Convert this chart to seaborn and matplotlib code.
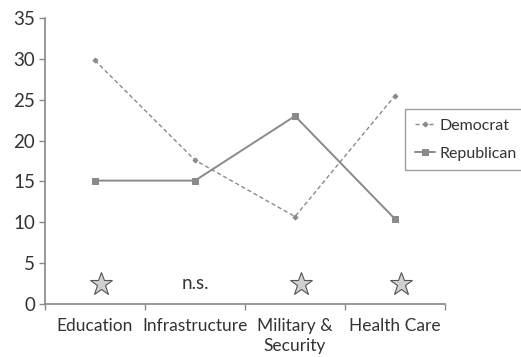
import matplotlib
matplotlib.use("Agg")
import matplotlib.pyplot as plt
import seaborn as sns
import pandas as pd
import numpy as np

categories = ["Education", "Infrastructure", "Military &\nSecurity", "Health Care"]
democrat = [29.8, 17.6, 10.7, 25.5]
republican = [15.1, 15.1, 23.0, 10.4]
significance = ["star", "n.s.", "star", "star"]

sns.set_theme(style="white")
plt.rcParams["font.family"] = ["Lato", "DejaVu Sans"]

fig = plt.figure(figsize=(5.21, 3.57), dpi=100)
ax = fig.add_axes([45 / 521, 1 - 304 / 357, 400 / 521, 286 / 357])

x = np.arange(len(categories))
df = pd.DataFrame({"x": x, "Democrat": democrat, "Republican": republican})

grey = "#8a8a8a"
sns.lineplot(data=df, x="x", y="Democrat", ax=ax, color=grey, lw=1.0,
             linestyle=(0, (3, 2)), marker="D", markersize=2.5,
             markeredgecolor=grey, label="Democrat")
sns.lineplot(data=df, x="x", y="Republican", ax=ax, color=grey, lw=1.4,
             marker="s", markersize=4, markeredgecolor=grey, label="Republican")

# significance markers
for i, s in enumerate(significance):
    if s == "star":
        ax.plot(i + 0.06, 2.45, marker="*", markersize=17, color="#d0d0d0",
                markeredgecolor="#555555", markeredgewidth=0.8)
    else:
        ax.text(i, 2.45, s, ha="center", va="center", fontsize=13.5, color="#333333")

ax.set_xlim(-0.5, 3.5)
ax.set_ylim(0, 35)
ax.set_yticks(range(0, 36, 5))
ax.set_xticks(x)
ax.set_xticklabels(categories, fontsize=12.5, color="#333333", linespacing=1.3)
ax.set_xticks(np.arange(-0.5, 4, 1), minor=True)
ax.tick_params(axis="x", which="major", length=0, pad=10)
ax.tick_params(axis="x", which="minor", length=4, width=1, color="#888888", direction="out", bottom=True)
ax.tick_params(axis="y", length=4, width=1, color="#888888", direction="out", left=True,
               labelsize=13.5, labelcolor="#333333", pad=3)
ax.set_xlabel("")
ax.set_ylabel("")
for side in ["top", "right"]:
    ax.spines[side].set_visible(False)
for side in ["left", "bottom"]:
    ax.spines[side].set_color("#888888")
    ax.spines[side].set_linewidth(1.2)

leg = ax.legend(loc="upper left", bbox_to_anchor=(405 / 521, 1 - 109 / 357),
                bbox_transform=fig.transFigure, frameon=True, fancybox=False,
                fontsize=11.5, handlelength=1.25, handletextpad=0.3,
                borderpad=0.6, borderaxespad=0, labelspacing=0.85)
leg.get_frame().set_edgecolor("#888888")
leg.get_frame().set_linewidth(1.0)
for t in leg.get_texts():
    t.set_color("#333333")

fig.savefig("out.png", dpi=100)
